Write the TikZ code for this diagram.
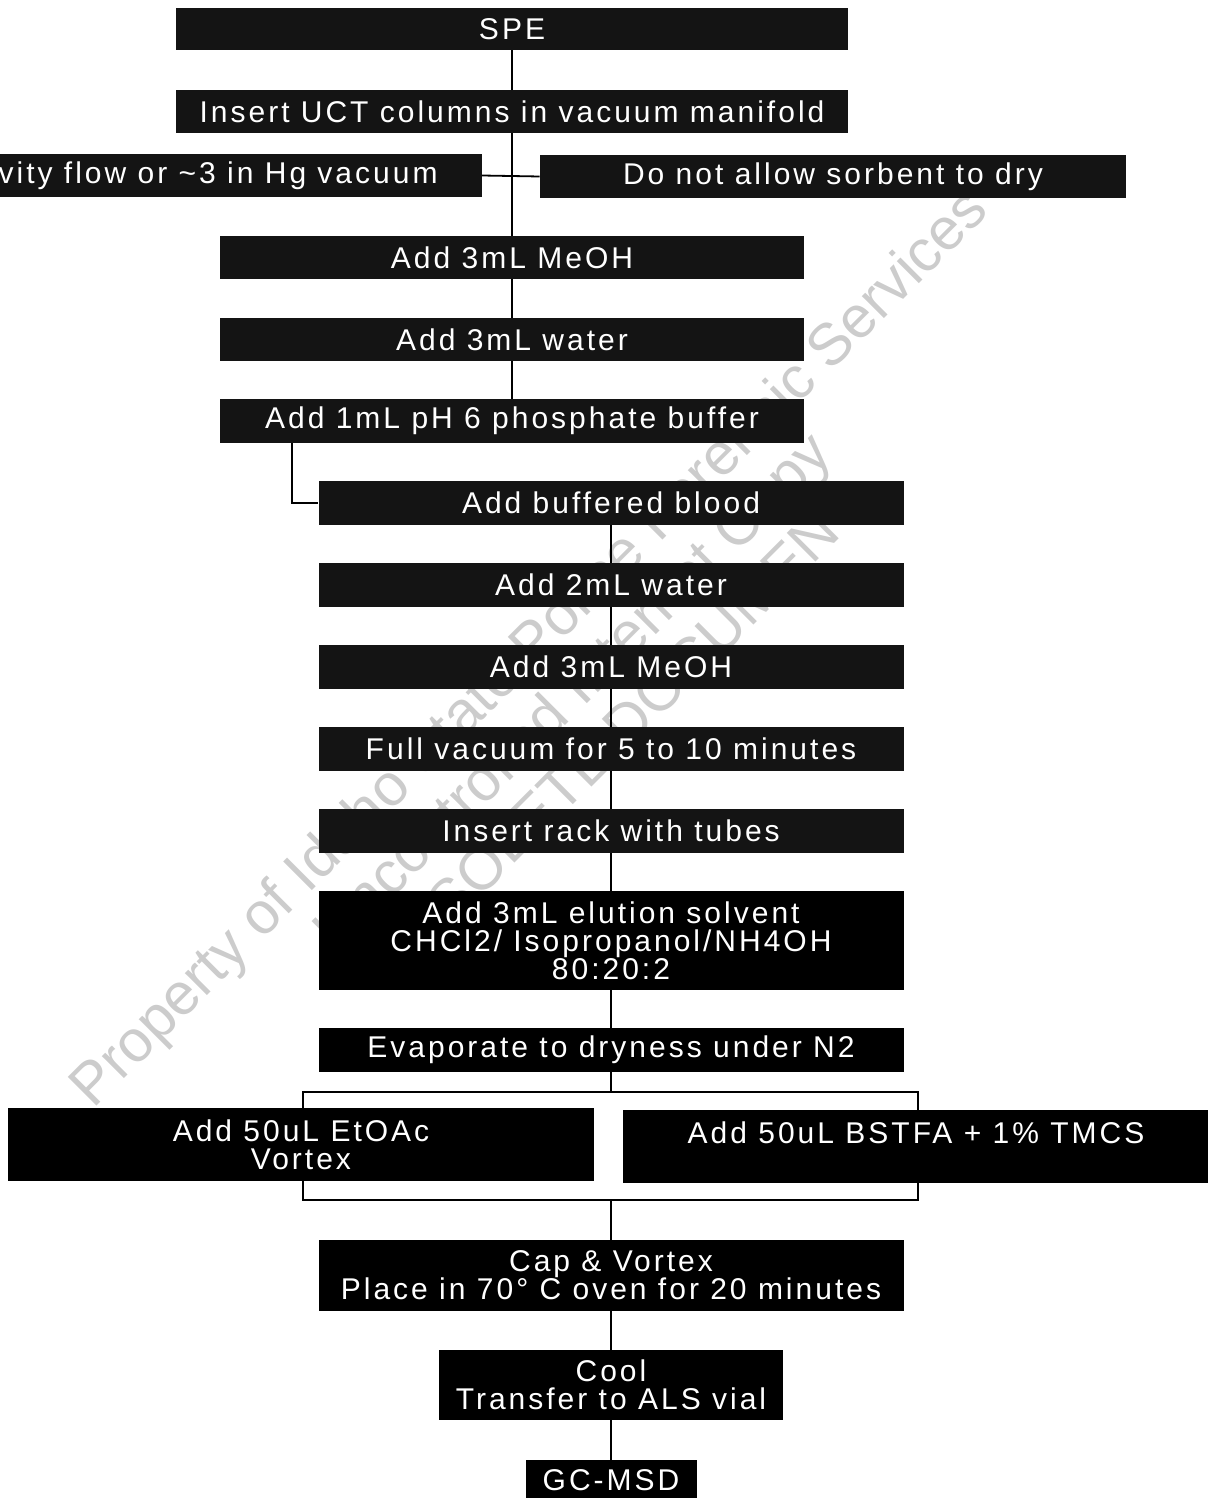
\documentclass[tikz,border=0pt]{standalone}
\usepackage{fontspec}
\usepackage{tikz}
\usetikzlibrary{calc}
\newfontfamily\boxfont[LetterSpace=10]{Liberation Sans}
\newfontfamily\markfont{Liberation Sans}

\begin{document}
\begin{tikzpicture}[x=0.5pt,y=-0.5pt,
    stepbox/.style={fill=black!92,text=white,inner sep=0pt,align=center,
      font=\fontsize{15}{14}\boxfont},
    solidbox/.style={stepbox,fill=black},
    bw/.style={minimum width=#1*0.5pt},
    bh/.style={minimum height=#1*0.5pt},
    link/.style={line width=0.9pt}]
  \useasboundingbox (0,0) rectangle (1208,1498);
  % ---------- watermark, behind the boxes
  \node[rotate=45,align=center,text=gray!40,font=\fontsize{29.5}{31}\markfont] (stamp) at (571,690)
    {Property of Idaho State Police Forensic Services\\Uncontrolled Internet Copy\\OBSOLETE DOCUMENT};
  % ---------- column preparation
  \node[stepbox,bw=672,bh=42] (spe) at (512,29) {SPE};
  \node[stepbox,bw=672,bh=43] (columns) at (512,111.5) {Insert UCT columns in vacuum manifold};
  \node[stepbox,bw=482,bh=43,anchor=east] (gravity) at (482,175.5) {vity flow or \textasciitilde3 in Hg vacuum\hspace*{22pt}};
  \node[stepbox,bw=586,bh=43] (nodry) at (833,176.5) {Do not allow sorbent to dry};
  \node[stepbox,bw=584,bh=43] (meoh) at (512,257.5) {Add 3mL MeOH};
  \node[stepbox,bw=584,bh=43] (water) at (512,339.5) {Add 3mL water};
  \node[stepbox,bw=584,bh=44] (buffer) at (512,421) {Add 1mL pH 6 phosphate buffer};
  % ---------- sample and washes
  \node[stepbox,bw=585,bh=44] (blood) at (611,503) {Add buffered blood};
  \node[stepbox,bw=585,bh=44] (water2) at (611,585) {Add 2mL water};
  \node[stepbox,bw=585,bh=44] (meoh2) at (611,667) {Add 3mL MeOH};
  \node[stepbox,bw=585,bh=44] (vacuum) at (611,749) {Full vacuum for 5 to 10 minutes};
  \node[stepbox,bw=585,bh=44] (rack) at (611,831) {Insert rack with tubes};
  \node[solidbox,bw=585,bh=99] (elute) at (611,940.5) {Add 3mL elution solvent\\CHCl2/ Isopropanol/NH4OH\\80:20:2};
  \node[solidbox,bw=585,bh=44] (evap) at (611,1050) {Evaporate to dryness under N2};
  % ---------- derivatisation
  \node[solidbox,bw=586,bh=73] (etoac) at (301,1144.5) {Add 50uL EtOAc\\Vortex};
  \node[solidbox,bw=586,bh=73] (bstfa) at (916,1146.5) {Add 50uL BSTFA + 1\% TMCS\\\mbox{}};
  \node[solidbox,bw=585,bh=71] (oven) at (611,1275.5) {Cap \& Vortex\\Place in 70° C oven for 20 minutes};
  \node[solidbox,bw=344,bh=70] (cool) at (611,1385) {Cool\\Transfer to ALS vial};
  \node[solidbox,bw=171,bh=40] (gcmsd) at (611,1480) {GC-MSD};
  % ---------- connectors
  \coordinate (splitL) at (303,1092);
  \coordinate (splitR) at (918,1092);
  \coordinate (mergeL) at (303,1200);
  \coordinate (mergeR) at (918,1200);
  \draw[link] (spe) -- (columns);
  \draw[link] (columns) -- (meoh);
  \draw[link] (gravity.east) -- (nodry.west);
  \draw[link] (meoh) -- (water);
  \draw[link] (water) -- (buffer);
  \draw[link] (buffer.south west) ++(72,0) |- (blood.west);
  \foreach \a/\b in {blood/water2,water2/meoh2,meoh2/vacuum,vacuum/rack,rack/elute,elute/evap}
    \draw[link] (\a) -- (\b);
  \draw[link] (evap.south) -- (evap.south |- splitL);
  \draw[link] (splitL |- etoac.north) -- (splitL) -- (splitR) -- (splitR |- bstfa.north);
  \draw[link] (mergeL |- etoac.south) -- (mergeL) -- (mergeR) -- (mergeR |- bstfa.south);
  \draw[link] (oven.north |- mergeL) -- (oven.north);
  \draw[link] (oven) -- (cool);
  \draw[link] (cool) -- (gcmsd);
\end{tikzpicture}
\end{document}
